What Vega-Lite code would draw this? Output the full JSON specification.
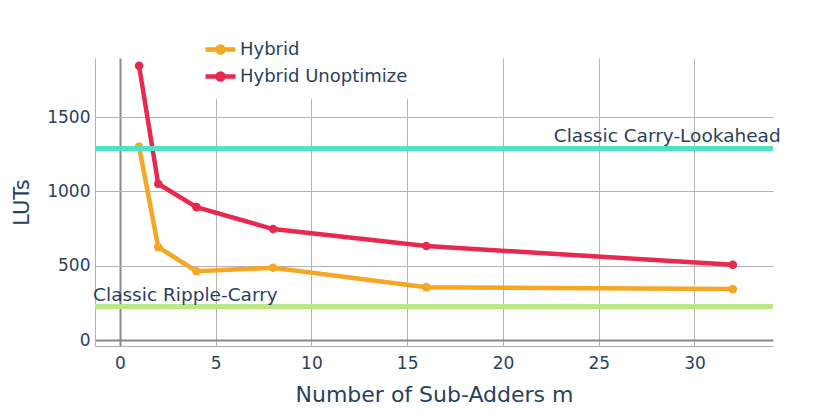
{
  "$schema": "https://vega.github.io/schema/vega-lite/v6.json",
  "width": 678,
  "height": 288,
  "autosize": {"type": "none"},
  "padding": {"left": 95, "top": 58, "right": 47, "bottom": 66},
  "background": "white",
  "config": {
    "font": "DejaVu Sans",
    "view": {"stroke": null},
    "axis": {
      "labelFont": "DejaVu Sans",
      "labelFontSize": 17,
      "labelColor": "#2a3f5f",
      "titleFont": "DejaVu Sans",
      "titleFontSize": 22,
      "titleFontWeight": "normal",
      "titleColor": "#2a3f5f",
      "ticks": false,
      "grid": true,
      "gridColor": {"condition": {"test": "datum.value === 0", "value": "#8a8a8a"}, "value": "#b4b4b4"},
      "gridWidth": {"condition": {"test": "datum.value === 0", "value": 2}, "value": 1},
      "domainColor": "#b0b0b0"
    }
  },
  "datasets": {
    "series": [
      {"m": 1, "luts": 1302, "design": "Hybrid"},
      {"m": 2, "luts": 627, "design": "Hybrid"},
      {"m": 4, "luts": 465, "design": "Hybrid"},
      {"m": 8, "luts": 488, "design": "Hybrid"},
      {"m": 16, "luts": 358, "design": "Hybrid"},
      {"m": 32, "luts": 345, "design": "Hybrid"},
      {"m": 1, "luts": 1844, "design": "Hybrid Unoptimized"},
      {"m": 2, "luts": 1052, "design": "Hybrid Unoptimized"},
      {"m": 4, "luts": 895, "design": "Hybrid Unoptimized"},
      {"m": 8, "luts": 748, "design": "Hybrid Unoptimized"},
      {"m": 16, "luts": 634, "design": "Hybrid Unoptimized"},
      {"m": 32, "luts": 508, "design": "Hybrid Unoptimized"}
    ],
    "refs": [
      {"name": "Classic Carry-Lookahead", "luts": 1289, "labelM": 34.5},
      {"name": "Classic Ripple-Carry", "luts": 228, "labelM": -1.4}
    ]
  },
  "encoding": {},
  "layer": [
    {
      "data": {"name": "series"},
      "mark": {"type": "line", "strokeWidth": 4.5, "point": {"filled": true, "size": 75, "opacity": 1}},
      "encoding": {
        "x": {
          "field": "m", "type": "quantitative",
          "scale": {"domain": [-1.3, 34.1], "nice": false, "zero": false},
          "axis": {"values": [0, 5, 10, 15, 20, 25, 30], "title": "Number of Sub-Adders m", "labelPadding": 9, "titlePadding": 13}
        },
        "y": {
          "field": "luts", "type": "quantitative",
          "scale": {"domain": [-37, 1896], "nice": false, "zero": false},
          "axis": {"values": [0, 500, 1000, 1500], "format": "d", "title": "LUTs", "titleFontSize": 21, "labelPadding": 5, "titlePadding": 14}
        },
        "color": {
          "field": "design", "type": "nominal",
          "scale": {"domain": ["Hybrid", "Hybrid Unoptimized"], "range": ["#f5a623", "#e8294f"]},
          "legend": {
            "title": null,
            "orient": "none",
            "legendX": 103,
            "legendY": -31,
            "padding": 10,
            "fillColor": "white",
            "symbolType": "M-1.5,0L1.5,0M-0.3,0A0.3,0.3,0,1,1,0.3,0A0.3,0.3,0,1,1,-0.3,0Z",
            "symbolSize": 400,
            "symbolStrokeWidth": 4.5,
            "labelFontSize": 18,
            "labelColor": "#2a3f5f",
            "labelOffset": 7,
            "labelLimit": 170,
            "rowPadding": 2,
            "encode": {
              "symbols": {"update": {
                "fill": {"scale": "color", "field": "value"},
                "stroke": {"scale": "color", "field": "value"},
                "strokeWidth": {"value": 4.5},
                "opacity": {"value": 1}
              }},
              "labels": {"update": {"ellipsis": {"value": "\u200b"}}}
            }
          }
        }
      }
    },
    {
      "data": {"name": "refs"},
      "transform": [{"filter": "datum.name === 'Classic Carry-Lookahead'"}],
      "mark": {"type": "rule", "color": "#50e3c2", "strokeWidth": 5},
      "encoding": {"y": {"field": "luts", "type": "quantitative"}}
    },
    {
      "data": {"name": "refs"},
      "transform": [{"filter": "datum.name === 'Classic Ripple-Carry'"}],
      "mark": {"type": "rule", "color": "#b8e986", "strokeWidth": 5},
      "encoding": {"y": {"field": "luts", "type": "quantitative"}}
    },
    {
      "data": {"name": "refs"},
      "transform": [{"filter": "datum.name === 'Classic Carry-Lookahead'"}],
      "mark": {"type": "text", "align": "right", "baseline": "alphabetic", "dy": -6, "fontSize": 18.5, "color": "#2a3f5f"},
      "encoding": {
        "x": {"field": "labelM", "type": "quantitative"},
        "y": {"field": "luts", "type": "quantitative"},
        "text": {"field": "name"}
      }
    },
    {
      "data": {"name": "refs"},
      "transform": [{"filter": "datum.name === 'Classic Ripple-Carry'"}],
      "mark": {"type": "text", "align": "left", "baseline": "alphabetic", "dy": -6, "fontSize": 18.5, "color": "#2a3f5f"},
      "encoding": {
        "x": {"field": "labelM", "type": "quantitative"},
        "y": {"field": "luts", "type": "quantitative"},
        "text": {"field": "name"}
      }
    }
  ]
}
